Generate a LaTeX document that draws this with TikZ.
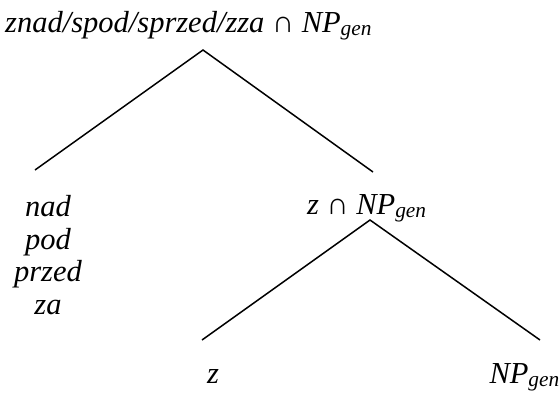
\documentclass[tikz,border=0pt]{standalone}
\usepackage{fontspec}
\setmainfont{Liberation Serif}

\begin{document}
\begin{tikzpicture}[x=1pt,y=-1pt]
\tikzset{lbl/.style={font=\fontsize{30.5}{32.7}\selectfont\itshape, inner sep=0pt},
         branch/.style={line width=1.5pt}}
\useasboundingbox (0,0) rectangle (560,392);
% labels
\node[lbl, anchor=base west] (root) at (5,32) {znad/spod/sprzed/zza {\upshape\char"2229} NP\textsubscript{gen}};
\node[lbl, align=center, anchor=north] (prep) at (48,195) {nad\\pod\\przed\\za};
\node[lbl, anchor=base west] (zNP) at (307,214) {z {\upshape\char"2229} NP\textsubscript{gen}};
\node[lbl, anchor=base] (z) at (213,383) {z};
\node[lbl, anchor=base east] (NP) at (560,383) {NP\textsubscript{gen}};
% branch ends
\coordinate (rootapex) at (203,50);
\coordinate (prepend) at (35,170);
\coordinate (zNPend) at (373,172);
\coordinate (zNPapex) at (370,220);
\coordinate (zend) at (202,340);
\coordinate (NPend) at (540,340);
\draw[branch] (prepend) -- (rootapex) -- (zNPend);
\draw[branch] (zend) -- (zNPapex) -- (NPend);
\end{tikzpicture}
\end{document}
